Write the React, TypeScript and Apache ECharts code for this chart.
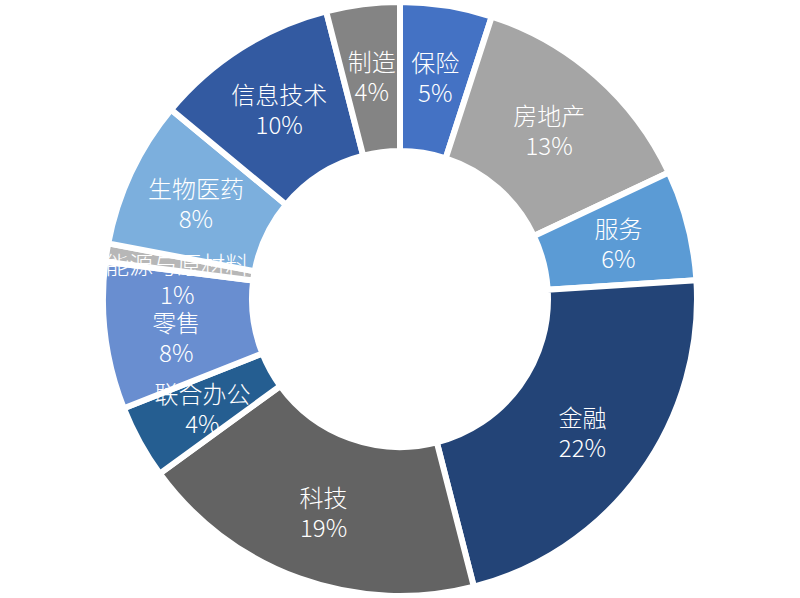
import React, { useEffect, useRef } from "react";
import * as echarts from "echarts";

const categories = ["保险", "房地产", "服务", "金融", "科技", "联合办公", "零售", "能源与原材料", "生物医药", "信息技术", "制造"];
const values = [5, 13, 6, 22, 19, 4, 8, 1, 8, 10, 4];
const colors = ["#4472C4", "#A5A5A5", "#5B9BD5", "#234477", "#636363", "#255E91", "#698ED0", "#B7B7B7", "#7CAFDD", "#335AA1", "#848484"];

export default function App() {
  const ref = useRef<HTMLDivElement>(null);
  useEffect(() => {
    if (!ref.current) return;
    const chart = echarts.init(ref.current, null, { renderer: "svg" });
    chart.setOption({
      animation: false,
      backgroundColor: "#ffffff",
      color: colors,
      series: [
        {
          type: "pie",
          center: [400, 299],
          radius: [148, 297],
          startAngle: 90,
          clockwise: true,
          percentPrecision: 0,
          avoidLabelOverlap: false,
          itemStyle: { borderColor: "#ffffff", borderWidth: 6 },
          emphasis: { disabled: true },
          label: {
            show: true,
            position: "inside",
            formatter: "{n|{b}}\n{p|{d}%}",
            color: "#ffffff",
            fontWeight: 300,
            fontFamily: "'Noto Sans CJK SC', 'Noto Sans', sans-serif",
            rich: {
              n: { fontSize: 24, lineHeight: 30, color: "#ffffff", fontWeight: 300, fontFamily: "'Noto Sans CJK SC', 'Noto Sans', sans-serif" },
              p: { fontSize: 24, lineHeight: 30, color: "#ffffff", fontWeight: 300, fontFamily: "'Noto Sans CJK SC', 'Noto Sans', sans-serif" },
            },
          },
          labelLine: { show: false },
          labelLayout: (p: any) => {
            if (p.dataIndex === 7) return { dy: 15 };
            if (p.dataIndex === 6) return { dy: 9 };
            return {};
          },
          data: categories.map((name, i) => ({ name, value: values[i] })),
        },
      ],
    });
    return () => chart.dispose();
  }, []);
  return <div ref={ref} style={{ position: "fixed", left: 0, top: 0, width: 800, height: 598 }} />;
}
